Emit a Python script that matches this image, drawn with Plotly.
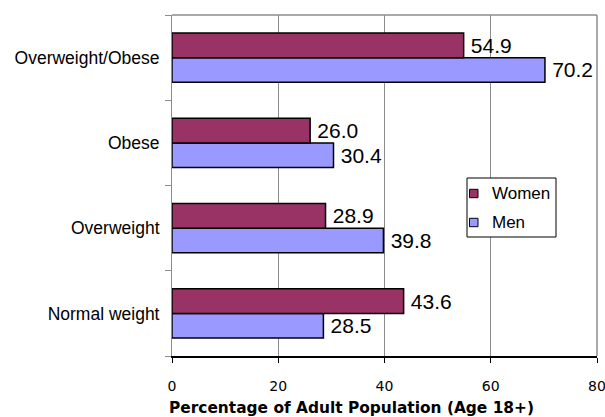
import plotly.graph_objects as go

# Adult weight status by sex (percent of population aged 18+)
categories = ["Normal weight", "Overweight", "Obese", "Overweight/Obese"]
men = [28.5, 39.8, 30.4, 70.2]
women = [43.6, 28.9, 26.0, 54.9]
x_ticks = [0, 20, 40, 60, 80]

series = [("Men", men, "#9999FF"), ("Women", women, "#993366")]

LABEL_FONT = "Liberation Sans, Arial, sans-serif"
AXIS_FONT = "DejaVu Sans, Verdana, sans-serif"

W, H = 605, 417
M_L, M_R, M_T, M_B = 172, 8, 15, 61
PLOT_W = W - M_L - M_R
PLOT_H = H - M_T - M_B


def px_x(px):
    """Pixel column -> paper x."""
    return (px - M_L) / PLOT_W


def px_y(py):
    """Pixel row -> paper y."""
    return (H - M_B - py) / PLOT_H


fig = go.Figure()
for name, vals, color in series:
    fig.add_trace(go.Bar(
        y=categories, x=vals, name=name, orientation="h",
        marker=dict(color=color, line=dict(color="#000000", width=1.5)),
        texttemplate="\u2009%{x:.1f}", textposition="outside",
        constraintext="none",
        textfont=dict(family=LABEL_FONT, size=21, color="#000000"),
        cliponaxis=False,
    ))

# Boxed legend (Women above Men), drawn with shapes and text
shapes = [
    dict(type="line", xref="paper", yref="paper", x0=0, x1=1, y0=1, y1=1,
         line=dict(color="#8c8c8c", width=1.5)),
    dict(type="line", xref="paper", yref="paper", x0=1, x1=1, y0=0, y1=1,
         line=dict(color="#8c8c8c", width=1.5)),
    dict(type="rect", xref="paper", yref="paper",
         x0=px_x(467), x1=px_x(556), y0=px_y(237), y1=px_y(178),
         line=dict(color="#000000", width=1), fillcolor="white", layer="above"),
]
annotations = []
legend_rows = [(series[1], 193.5), (series[0], 222.5)]
for (name, _vals, color), cy in legend_rows:
    shapes.append(dict(
        type="rect", xref="paper", yref="paper",
        x0=px_x(469.5), x1=px_x(478), y0=px_y(cy + 4.2), y1=px_y(cy - 4.2),
        line=dict(color="#000000", width=1), fillcolor=color, layer="above"))
    annotations.append(dict(
        text=name, xref="paper", yref="paper", x=px_x(490), y=px_y(cy),
        xanchor="left", yanchor="middle", showarrow=False,
        font=dict(family=LABEL_FONT, size=17, color="#000000")))

annotations.append(dict(
    text="<b>Percentage of Adult Population (Age 18+)</b>",
    xref="paper", yref="paper", x=px_x(351.5), y=0, yshift=-52,
    xanchor="center", yanchor="middle", showarrow=False,
    font=dict(family=AXIS_FONT, size=15.4, color="#000000")))

fig.update_layout(
    width=W, height=H,
    margin=dict(l=M_L, r=M_R, t=M_T, b=M_B, autoexpand=False),
    paper_bgcolor="white", plot_bgcolor="white",
    barmode="group", bargap=0.424, bargroupgap=0,
    showlegend=False,
    xaxis=dict(
        range=[0, 80], tickvals=x_ticks, ticktext=[str(v) for v in x_ticks],
        showgrid=True, gridcolor="#8c8c8c", gridwidth=1,
        showline=True, linecolor="#000000", linewidth=1.5,
        ticks="outside", ticklen=5, tickcolor="#000000",
        tickfont=dict(family=AXIS_FONT, size=14, color="#000000"),
        ticklabelstandoff=11, ticklabeloverflow="allow",
        automargin=False,
        zeroline=False, mirror=False, fixedrange=True,
    ),
    yaxis=dict(
        type="category", categoryorder="array", categoryarray=categories,
        range=[-0.5, 3.5], tickson="boundaries",
        showgrid=False,
        showline=True, linecolor="#8c8c8c", linewidth=1,
        ticks="outside", ticklen=6, tickcolor="#8c8c8c",
        tickfont=dict(family=LABEL_FONT, size=17.5, color="#000000"),
        ticklabelstandoff=8, automargin=False,
        zeroline=False, fixedrange=True,
    ),
    shapes=shapes,
    annotations=annotations,
)

fig.write_html("out.html")
